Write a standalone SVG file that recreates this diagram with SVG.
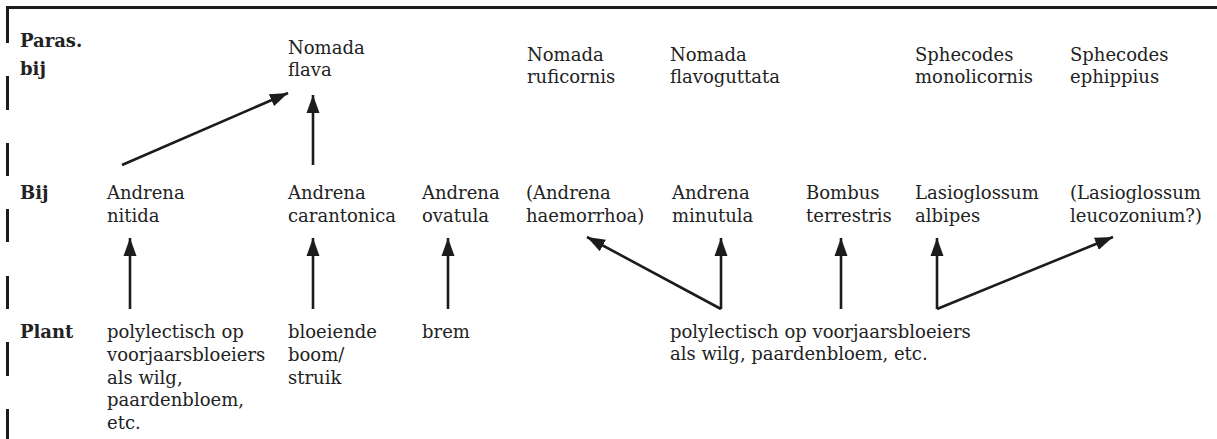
<svg xmlns="http://www.w3.org/2000/svg" width="1217" height="439" viewBox="0 0 1217 439">
<style>
text{font-family:"DejaVu Serif","Liberation Serif",serif;font-size:18px;fill:#222}
.lbl{font-weight:bold}
.c{stroke:#1c1c1c;stroke-width:2.6;fill:none}
.frame{stroke:#1c1c1c;stroke-width:3;fill:none}
</style>
<defs>
<marker id="ah" markerUnits="userSpaceOnUse" markerWidth="20" markerHeight="14" refX="18" refY="7" orient="auto">
<path d="M0,0.5 L18,7 L0,13.5 z" fill="#1c1c1c"/>
</marker>
</defs>
<g id="frame">
<path class="frame" d="M7.5,43 L7.5,7.5 L1217,7.5"/>
<path class="frame" d="M7.5,76 V110 M7.5,143 V176 M7.5,209 V242 M7.5,276 V309 M7.5,342 V376 M7.5,409 V439"/>
</g>
<g id="row-labels">
<text class="lbl" x="20" y="47">Paras.</text>
<text class="lbl" x="20" y="75">bij</text>
<text class="lbl" x="20" y="199">Bij</text>
<text class="lbl" x="20" y="338">Plant</text>
</g>
<g id="nomada-flava"><text x="288" y="54">Nomada</text><text x="288" y="76">flava</text></g>
<g id="nomada-ruficornis"><text x="527" y="61">Nomada</text><text x="527" y="83">ruficornis</text></g>
<g id="nomada-flavoguttata"><text x="670" y="61">Nomada</text><text x="670" y="83">flavoguttata</text></g>
<g id="sphecodes-monolicornis"><text x="915" y="61">Sphecodes</text><text x="915" y="83">monolicornis</text></g>
<g id="sphecodes-ephippius"><text x="1070" y="61">Sphecodes</text><text x="1070" y="83">ephippius</text></g>
<g id="andrena-nitida"><text x="107" y="199">Andrena</text><text x="107" y="222">nitida</text></g>
<g id="andrena-carantonica"><text x="288" y="199">Andrena</text><text x="288" y="222">carantonica</text></g>
<g id="andrena-ovatula"><text x="422" y="199">Andrena</text><text x="422" y="222">ovatula</text></g>
<g id="andrena-haemorrhoa"><text x="526" y="199">(Andrena</text><text x="526" y="222">haemorrhoa)</text></g>
<g id="andrena-minutula"><text x="672" y="199">Andrena</text><text x="672" y="222">minutula</text></g>
<g id="bombus-terrestris"><text x="806" y="199">Bombus</text><text x="806" y="222">terrestris</text></g>
<g id="lasioglossum-albipes"><text x="915" y="199">Lasioglossum</text><text x="915" y="222">albipes</text></g>
<g id="lasioglossum-leucozonium"><text x="1070" y="199">(Lasioglossum</text><text x="1070" y="222">leucozonium?)</text></g>
<g id="plant-polylectisch-1"><text x="107" y="338">polylectisch op</text><text x="107" y="361">voorjaarsbloeiers</text><text x="107" y="384">als wilg,</text><text x="107" y="406">paardenbloem,</text><text x="107" y="429">etc.</text></g>
<g id="plant-boom"><text x="288" y="338">bloeiende</text><text x="288" y="361">boom/</text><text x="288" y="384">struik</text></g>
<g id="plant-brem"><text x="422" y="338">brem</text></g>
<g id="plant-polylectisch-2"><text x="670" y="338">polylectisch op voorjaarsbloeiers</text><text x="670" y="360">als wilg, paardenbloem, etc.</text></g>
<g id="connectors">
<line class="c" x1="122" y1="165" x2="288" y2="93" marker-end="url(#ah)"/>
<line class="c" x1="313" y1="165" x2="313" y2="95" marker-end="url(#ah)"/>
<line class="c" x1="130" y1="309" x2="130" y2="238" marker-end="url(#ah)"/>
<line class="c" x1="313" y1="309" x2="313" y2="238" marker-end="url(#ah)"/>
<line class="c" x1="448" y1="309" x2="448" y2="238" marker-end="url(#ah)"/>
<line class="c" x1="721" y1="309" x2="587" y2="237" marker-end="url(#ah)"/>
<line class="c" x1="721" y1="309" x2="721" y2="238" marker-end="url(#ah)"/>
<line class="c" x1="841" y1="309" x2="841" y2="238" marker-end="url(#ah)"/>
<line class="c" x1="937" y1="309" x2="937" y2="238" marker-end="url(#ah)"/>
<line class="c" x1="937" y1="309" x2="1113" y2="237" marker-end="url(#ah)"/>
</g>
</svg>
